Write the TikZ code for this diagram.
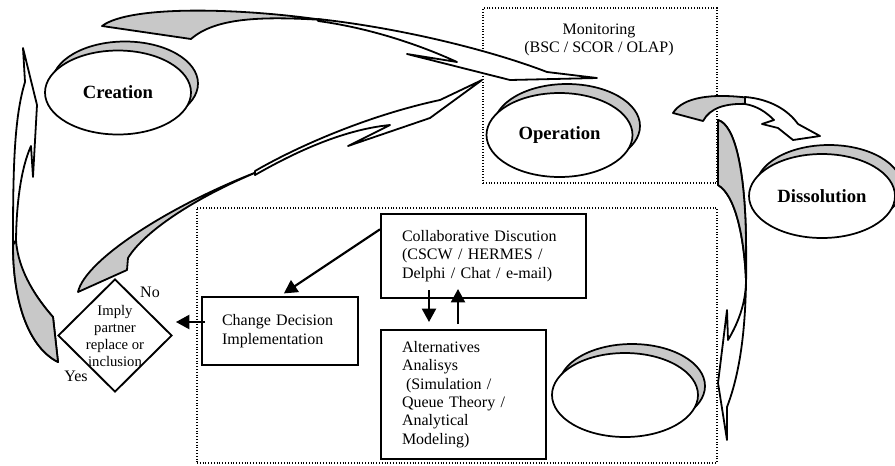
\documentclass[tikz,border=0pt]{standalone}
\usepackage{fontspec}
\setmainfont{Liberation Serif}
\usetikzlibrary{shapes.geometric,arrows.meta,calc}
\definecolor{shadegray}{RGB}{200,200,200}
\begin{document}
\begin{tikzpicture}[x=0.75pt,y=-0.75pt,
  ell/.style={ellipse, draw, line width=1.3pt, fill=white, minimum width=109.5pt, minimum height=63pt, inner sep=0pt, font=\fontsize{14}{16}\selectfont\bfseries},
  ellsh/.style={ell, fill=shadegray},
  txtbox/.style={rectangle, draw, line width=1.5pt, fill=white, align=left, font=\fontsize{12}{13.8}\selectfont, inner ysep=0pt},
  dotbox/.style={draw, line width=0.9pt, dash pattern=on 0.8pt off 1.3pt, inner sep=0pt},
  blk/.style={draw, line width=1.35pt, fill=white, line join=round},
  blkg/.style={blk, fill=shadegray},
  conn/.style={line width=1.6pt, -{Triangle[length=10pt,width=10.5pt]}},
  lbl/.style={font=\fontsize{12}{13.8}\selectfont, inner sep=0pt}
]
\useasboundingbox (0,0) rectangle (895,465);

% dotted frames
\node[dotbox, minimum width=175.5pt, minimum height=131.25pt] (monbox) at (600,95.5) {};
\node[dotbox, minimum width=390pt, minimum height=191.25pt] (decbox) at (457,335.5) {};
\node[lbl, align=center] (montext) at (599,40) {Monitoring\\(BSC / SCOR / OLAP)};

% block arrows
% A: Creation -> Operation
\filldraw[blkg] (102,26) .. controls (130,5) and (240,8) .. (323,20) .. controls (260,16) and (215,18) .. (191,39) -- cycle;
\filldraw[blk] (318,19) .. controls (400,28) and (490,50) .. (547,72) -- (597,78) -- (510,80) -- (407,54) -- (457,62) .. controls (420,45) and (370,28) .. (318,21) -- cycle;
% B: decision -> Operation
\filldraw[blkg] (78,292) .. controls (85,260) and (170,205) .. (262,170) .. controls (200,195) and (145,230) .. (128,258) -- (127,270) -- cycle;
\filldraw[blk] (255,171) .. controls (300,145) and (370,115) .. (440,100) -- (482,80) -- (430,118) -- (348,146) -- (390,125) .. controls (340,130) and (290,155) .. (255,175) -- cycle;
% C: Yes -> Creation
\filldraw[blk] (23,48) -- (37,105) -- (33,177) -- (31,146) .. controls (21,168) and (16,205) .. (16,245) .. controls (18,272) and (38,300) .. (53,317) -- (58,362) .. controls (30,348) and (13,305) .. (13,245) .. controls (13,170) and (14,118) .. (25,82) -- cycle;
\filldraw[blkg] (16,240) .. controls (18,272) and (38,300) .. (53,317) -- (58,362) .. controls (30,348) and (13,305) .. (13,245) -- cycle;
% D: Operation -> down
\filldraw[blk] (718,120) .. controls (735,125) and (745,170) .. (746,240) .. controls (747,300) and (745,360) .. (727,407) -- (727,440) -- (718,383) -- (727,310) -- (728,340) .. controls (740,320) and (746,300) .. (746,280) .. controls (744,235) and (735,195) .. (718,185) -- cycle;
\filldraw[blkg] (718,120) .. controls (735,125) and (745,170) .. (746,240) -- (746,280) .. controls (744,235) and (735,195) .. (718,185) -- cycle;
% E: Operation -> Dissolution
\filldraw[blkg] (673,113) .. controls (683,97) and (712,93) .. (750,98) -- (748,104) .. controls (725,103) and (710,108) .. (703,121) -- cycle;
\filldraw[blk] (745,97) .. controls (770,99) and (788,110) .. (798,124) -- (820,136) -- (793,140) -- (778,128) -- (762,124) -- (774,120) .. controls (766,112) and (757,106) .. (745,104) -- cycle;

% ellipses with 3-D rims
\node[ellsh] (creationsh) at (125,83.5) {};
\node[ell] (creation) at (118,92.5) {Creation};
\node[ellsh] (operationsh) at (567,126) {};
\node[ell] (operation) at (559.5,135) {Operation};
\node[ellsh] (dissolutionsh) at (829,187) {};
\node[ell] (dissolution) at (822,196) {Dissolution};
\node[ellsh] (emptysh) at (632,386) {};
\node[ell] (empty) at (625,395) {};

% process boxes
\node[txtbox, inner xsep=15.75pt, text width=122.25pt, minimum height=63pt] (collab) at (483.5,256)
  {Collaborative Discution\\(CSCW / HERMES /\\Delphi / Chat / e-mail)};
\node[txtbox, inner xsep=15pt, text width=87pt, minimum height=51pt] (change) at (280,331)
  {Change Decision\\Implementation};
\node[txtbox, inner xsep=15.75pt, text width=92.25pt, minimum height=96.75pt] (alt) at (463.5,394.5)
  {Alternatives\\Analisys\\\hspace*{0.25em}(Simulation /\\Queue Theory /\\Analytical\\Modeling)};

% decision
\node[diamond, draw, line width=1.4pt, fill=white, aspect=1, inner sep=0pt, minimum width=85.5pt, minimum height=84.75pt,
  label={[name=dlabel, align=center, font=\fontsize{11}{12.75}\selectfont, inner sep=0pt]center:Imply\\partner\\replace or\\inclusion}]
  (decision) at (115,335.5) {};
\node[lbl] (nolbl) at (150,292) {No};
\node[lbl] (yeslbl) at (76,376) {Yes};

% connectors
\coordinate (cfrom) at ($(collab.north west)!0.19!(collab.south west)$);
\draw[conn, shorten >=3.5pt] (cfrom) -- (change.north);
\coordinate (dfrom) at ($(change.west)+(4,-9)$);
\draw[conn, shorten >=2.25pt] (dfrom) -- (dfrom -| decision.east);
\coordinate (downfrom) at ($(collab.south west)+(49,-9)$);
\draw[conn, shorten >=5.25pt] (downfrom) -- (downfrom |- alt.north);
\coordinate (upfrom) at ($(alt.north west)+(78,-5)$);
\draw[conn, shorten >=-7.5pt] (upfrom) -- (upfrom |- collab.south);
\end{tikzpicture}
\end{document}
